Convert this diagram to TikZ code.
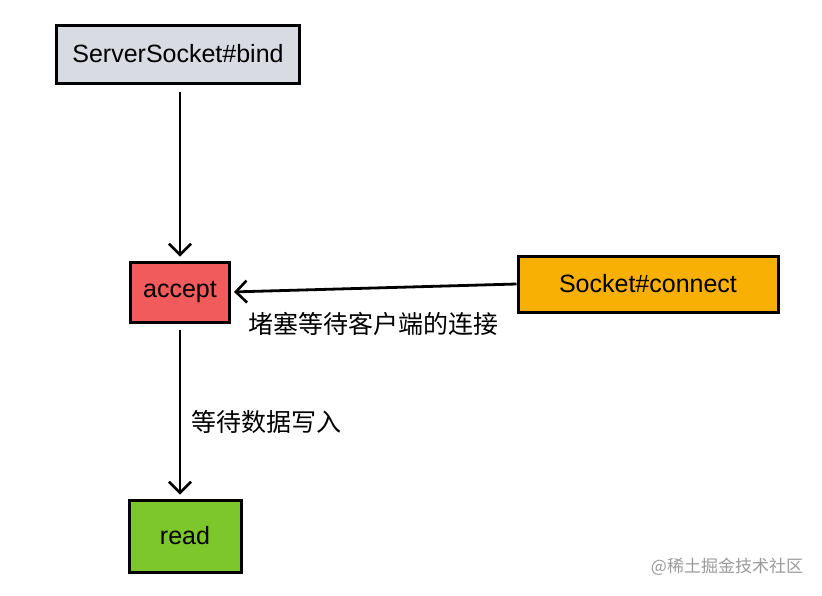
\documentclass[tikz,border=0pt]{standalone}
\usepackage{fontspec}
\setmainfont{Liberation Sans}
\newfontfamily\cjk{Noto Sans CJK SC}
\usepackage{tikz}
\usetikzlibrary{arrows.meta, positioning}

\definecolor{bindgray}{HTML}{D8DBE2}
\definecolor{acceptred}{HTML}{F25B5B}
\definecolor{connectorange}{HTML}{F9B004}
\definecolor{readgreen}{HTML}{7DC62B}
\definecolor{markgray}{HTML}{9A9A9A}

\tikzset{
	callbox/.style={draw=black, line width=3pt, inner sep=0pt, font=\fontsize{25}{29}\selectfont},
	flow/.style={line width=2.8pt, -{Straight Barb[length=11pt, width=22pt, line width=2.6pt]}},
	note/.style={font=\cjk\fontsize{25}{29}\selectfont}
}

\begin{document}
\begin{tikzpicture}[x=1pt, y=-1pt]
				% Canvas
				\useasboundingbox (0,0) rectangle (822,595);
				
				% Calls
				\node[callbox, fill=bindgray, minimum width=243pt, minimum height=58pt] (bind) at (178,54) {ServerSocket\#bind};
				\node[callbox, fill=acceptred, minimum width=99pt, minimum height=60pt] (accept) at (180,292) {accept};
				\node[callbox, fill=connectorange, minimum width=260pt, minimum height=56pt] (connect) at (648,284) {Socket\#connect};
				\node[callbox, fill=readgreen, minimum width=112pt, minimum height=72pt] (read) at (185,536) {read};
				
				% Flow
				\draw[flow, shorten <=7pt, shorten >=4pt] (bind.south -| accept.north) -- (accept.north);
				\draw[flow, shorten >=3pt] (connect.west) -- (accept.east) node[note, midway, below=20pt] {堵塞等待客户端的连接};
				\draw[flow, shorten <=6pt, shorten >=4pt] (accept.south) -- (accept.south |- read.north) node[note, pos=0.56, right=7pt] {等待数据写入};
				
				% Watermark
				\node[font=\cjk\fontsize{17}{20}\selectfont, text=markgray] (mark) at (727,567) {@稀土掘金技术社区};
			\end{tikzpicture}
\end{document}
